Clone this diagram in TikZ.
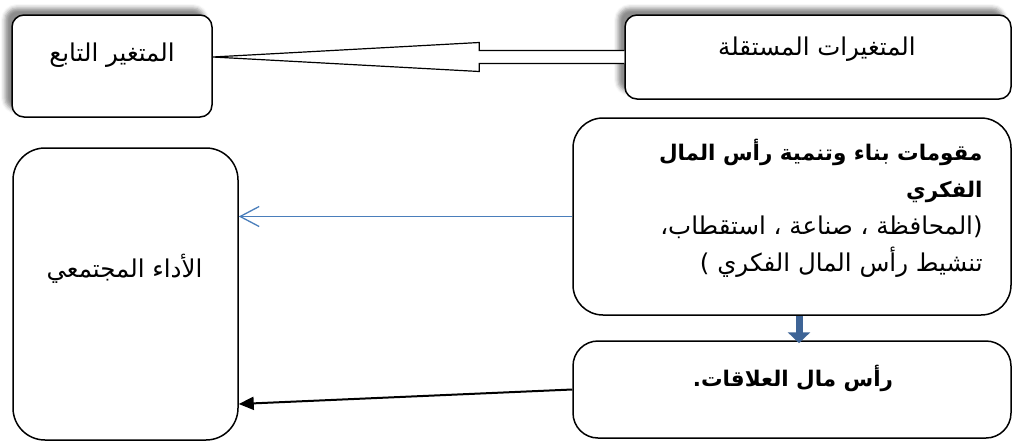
\documentclass[tikz,border=0pt]{standalone}
\usepackage{fontspec}
\usetikzlibrary{positioning,calc,arrows.meta,shadows.blur}
\TeXXeTstate=1
\newfontfamily\arabicfont[Script=Arabic]{DejaVu Sans}
\definecolor{linkblue}{RGB}{74,126,187}
\definecolor{darkblue}{RGB}{62,100,150}
\newcommand{\boldar}{\bfseries\fontsize{21.5}{37}\selectfont}

\tikzset{
  box/.style={draw, line width=1.5pt, inner sep=0pt, fill=white},
  shadowed/.style={blur shadow={shadow xshift=-7pt, shadow yshift=7pt, shadow blur radius=4pt, shadow opacity=45}},
  txt/.style={inner sep=0pt},
  hollowarrow/.style={draw, fill=white, line width=1.2pt, line join=miter},
  bluelink/.style={draw=linkblue, line width=1.3pt, -{Straight Barb[length=19pt, width=20pt]}},
  blacklink/.style={draw, line width=2pt, -{Triangle[length=15pt, width=13pt]}},
  downlink/.style={draw=darkblue, line width=7pt, -{Triangle[length=11pt, width=22pt]}, darkblue}
}

\begin{document}
\begin{tikzpicture}[x=1pt, y=-1pt, every node/.style={font=\arabicfont\fontsize{24.5}{37}\selectfont}]
			\useasboundingbox (0,0) rectangle (1012,442);

			% Boxes
			\node[box, shadowed, rounded corners=12pt, minimum width=200pt, minimum height=102pt] (dep) at (112,66) {};
			\node[box, shadowed, rounded corners=12pt, minimum width=386pt, minimum height=84pt] (indep) at (818,57) {};
			\node[box, rounded corners=32pt, minimum width=225pt, minimum height=292pt] (perf) at (125.5,294) {};
			\node[box, rounded corners=30pt, minimum width=438pt, minimum height=197pt] (build) at (792,216.5) {};
			\node[box, rounded corners=25pt, minimum width=438pt, minimum height=97pt] (rel) at (792,389.5) {};

			% Texts
			\node[txt] (depT) at ($(dep.north)+(0,41)$) {\beginR المتغير التابع\endR};
			\node[txt] (indepT) at ($(indep.north)+(-1,35)$) {\beginR المتغيرات المستقلة\endR};
			\node[txt] (perfT) at ($(perf.north)+(-1,122)$) {\beginR الأداء المجتمعي\endR};
			\node[txt, font=\arabicfont\boldar] (relT) at ($(rel.north)+(1,38)$) {\beginR رأس مال العلاقات.\endR};
			\node[txt, align=right, anchor=north east] (buildT) at ($(build.north east)+(-29,22)$)
				{{\boldar\beginR مقومات بناء وتنمية رأس المال\endR}\\
				{\boldar\beginR الفكري\endR}\\
				\beginR(المحافظة ، صناعة ، استقطاب،\endR\\
				\beginR تنشيط رأس المال الفكري )\endR};

			% Hollow arrow between the top boxes
			\coordinate (tipA) at (dep.east |- indep.west);
			\draw[hollowarrow] ($(indep.west)+(0,-6.5)$) -- ++(-145,0) -- ++(0,-8) -- (tipA)
				-- ($(indep.west)+(-145,14.5)$) -- ++(0,-8) -- ($(indep.west)+(0,6.5)$);

			% Links
			\draw[bluelink] (build.west) -- (perf.east |- build.west);
			\draw[blacklink] (rel.west) -- ($(perf.east)+(0,110)$);
			\draw[downlink, shorten >=-3pt] ($(build.south)+(7,0)$) -- ($(rel.north)+(7,0)$);
		\end{tikzpicture}
\end{document}
